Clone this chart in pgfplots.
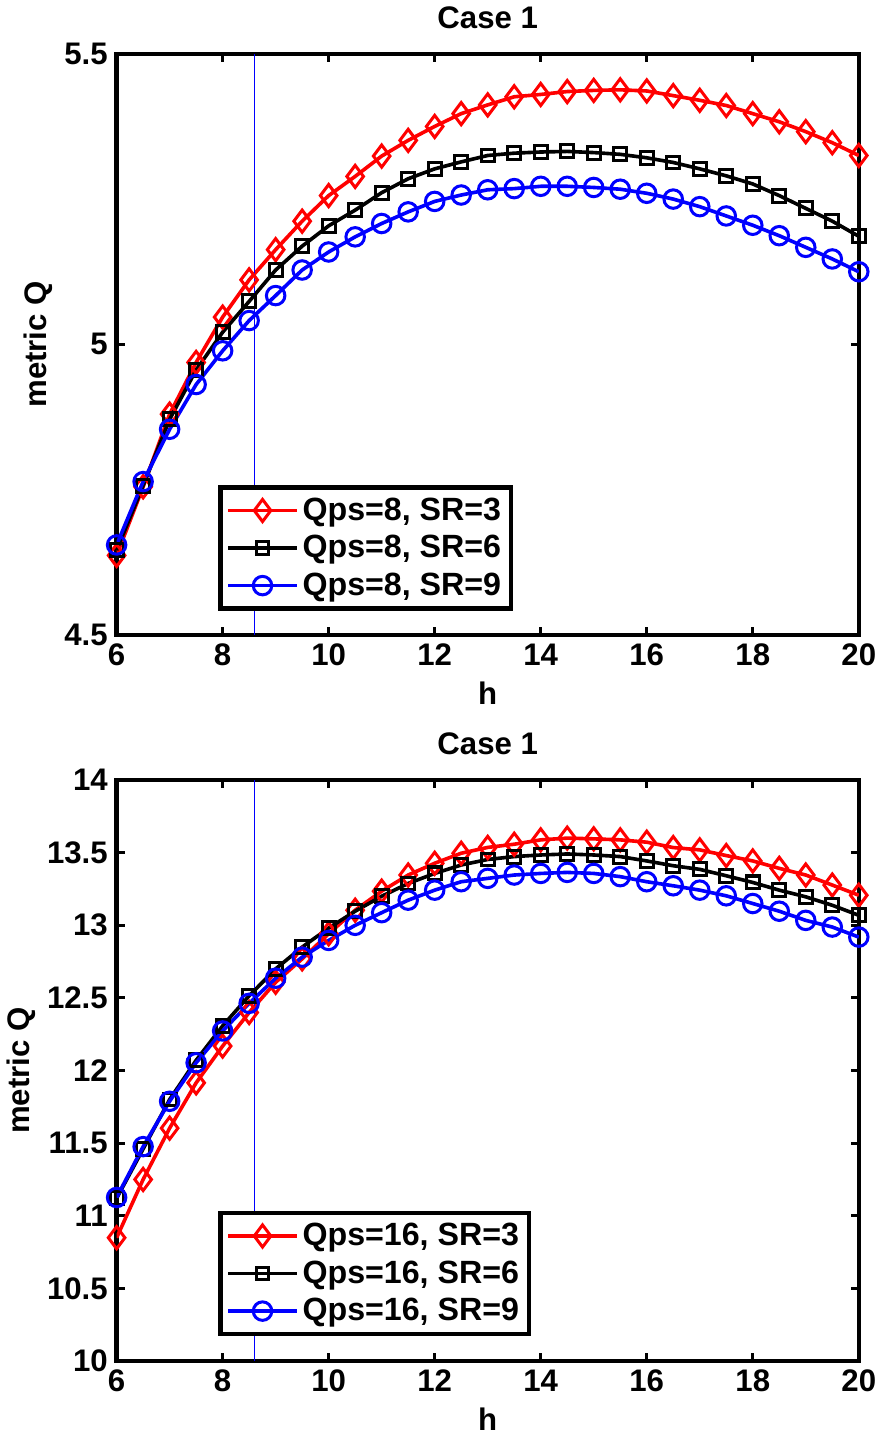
\documentclass[border=0pt]{standalone}
\usepackage{fontspec}
\setmainfont{Liberation Sans}
\usepackage{pgfplots}
\pgfplotsset{compat=1.18}

\pgfplotsset{
  mlab/.style={
    scale only axis, width=369pt, height=289pt,
    xmin=6, xmax=20, xtick={6,8,...,20},
    line width=2.2pt, every tick/.style={black, line width=1.4pt},
    tick align=inside, major tick length=4pt,
    ticklabel style={font=\bfseries\fontsize{15.5}{18}\selectfont},
    /pgf/number format/assume math mode=true,
    label style={font=\bfseries\fontsize{15.5}{18}\selectfont},
    title style={font=\bfseries\fontsize{15.5}{18}\selectfont, yshift=2pt},
    ylabel style={yshift=-2pt},
    xlabel={h}, ylabel={metric Q}, title={Case 1},
    legend cell align=left,
    legend style={font=\bfseries\fontsize{16}{18}\selectfont, line width=2.2pt,
      anchor=south west, inner sep=3pt, row sep=2pt},
    legend image code/.code={\draw[mark repeat=2,mark phase=2] plot coordinates {(0pt,0pt)(17pt,0pt)(34pt,0pt)};},
  },
  sred/.style={red, line width=1.8pt, mark=diamond, mark size=5.5pt, mark options={line width=1.5pt, solid}},
  sblk/.style={black, line width=1.8pt, mark=square, mark size=3.2pt, mark options={line width=1.5pt, solid}},
  sblu/.style={blue, line width=1.8pt, mark=o, mark size=4.6pt, mark options={line width=1.5pt, solid}},
}

\begin{document}
\begin{tikzpicture}
\begin{axis}[mlab, at={(0,0)}, anchor=south west,
  ymin=4.5, ymax=5.5, ytick={4.5,5,5.5},
  legend style={at={(0.137,0.042)}}]
\addplot[sred] coordinates {
(6,4.637)(6.5,4.755)(7,4.880)(7.5,4.969)(8,5.047)(8.5,5.111)(9,5.163)(9.5,5.212)
(10,5.256)(10.5,5.289)(11,5.324)(11.5,5.351)(12,5.375)(12.5,5.397)(13,5.412)
(13.5,5.426)(14,5.430)(14.5,5.435)(15,5.437)(15.5,5.438)(16,5.436)(16.5,5.428)
(17,5.420)(17.5,5.411)(18,5.397)(18.5,5.383)(19,5.366)(19.5,5.347)(20,5.325)};
\addlegendentry{Qps=8, SR=3}
\addplot[sblk] coordinates {
(6,4.646)(6.5,4.757)(7,4.871)(7.5,4.956)(8,5.021)(8.5,5.074)(9,5.128)(9.5,5.169)
(10,5.204)(10.5,5.231)(11,5.261)(11.5,5.285)(12,5.302)(12.5,5.314)(13,5.325)
(13.5,5.329)(14,5.331)(14.5,5.332)(15,5.330)(15.5,5.327)(16,5.321)(16.5,5.313)
(17,5.302)(17.5,5.290)(18,5.276)(18.5,5.256)(19,5.234)(19.5,5.212)(20,5.186)};
\addlegendentry{Qps=8, SR=6}
\addplot[sblu] coordinates {
(6,4.655)(6.5,4.764)(7,4.854)(7.5,4.931)(8,4.989)(8.5,5.041)(9,5.084)(9.5,5.128)
(10,5.159)(10.5,5.185)(11,5.208)(11.5,5.228)(12,5.246)(12.5,5.257)(13,5.266)
(13.5,5.268)(14,5.272)(14.5,5.272)(15,5.270)(15.5,5.267)(16,5.260)(16.5,5.250)
(17,5.237)(17.5,5.221)(18,5.205)(18.5,5.187)(19,5.167)(19.5,5.147)(20,5.125)};
\addlegendentry{Qps=8, SR=9}
\addplot[blue, line width=0.6pt, forget plot] coordinates {(8.6,4.5)(8.6,5.5)};
\end{axis}

\begin{axis}[mlab, at={(0,-72pt)}, anchor=north west,
  ymin=10, ymax=14, ytick={10,10.5,...,14},
  legend style={at={(0.137,0.043)}}]
\addplot[sred] coordinates {
(6,10.849)(6.5,11.25)(7,11.603)(7.5,11.915)(8,12.168)(8.5,12.399)(9,12.607)(9.5,12.768)
(10,12.941)(10.5,13.103)(11,13.234)(11.5,13.345)(12,13.426)(12.5,13.495)(13,13.535)
(13.5,13.557)(14,13.587)(14.5,13.599)(15,13.594)(15.5,13.587)(16,13.571)(16.5,13.534)
(17,13.518)(17.5,13.479)(18,13.442)(18.5,13.391)(19,13.345)(19.5,13.276)(20,13.206)};
\addlegendentry{Qps=16, SR=3}
\addplot[sblk] coordinates {
(6,11.12)(6.5,11.46)(7,11.80)(7.5,12.07)(8,12.307)(8.5,12.514)(9,12.699)(9.5,12.849)
(10,12.980)(10.5,13.096)(11,13.199)(11.5,13.287)(12,13.356)(12.5,13.414)(13,13.452)
(13.5,13.472)(14,13.483)(14.5,13.490)(15,13.483)(15.5,13.472)(16,13.442)(16.5,13.409)
(17,13.384)(17.5,13.340)(18,13.294)(18.5,13.241)(19,13.195)(19.5,13.137)(20,13.068)};
\addlegendentry{Qps=16, SR=6}
\addplot[sblu] coordinates {
(6,11.126)(6.5,11.476)(7,11.788)(7.5,12.053)(8,12.272)(8.5,12.462)(9,12.635)(9.5,12.780)
(10,12.895)(10.5,12.999)(11,13.086)(11.5,13.172)(12,13.241)(12.5,13.299)(13,13.322)
(13.5,13.345)(14,13.356)(14.5,13.363)(15,13.356)(15.5,13.334)(16,13.299)(16.5,13.271)
(17,13.241)(17.5,13.202)(18,13.149)(18.5,13.096)(19,13.033)(19.5,12.987)(20,12.918)};
\addlegendentry{Qps=16, SR=9}
\addplot[blue, line width=0.6pt, forget plot] coordinates {(8.6,10)(8.6,14)};
\end{axis}
\end{tikzpicture}
\end{document}
